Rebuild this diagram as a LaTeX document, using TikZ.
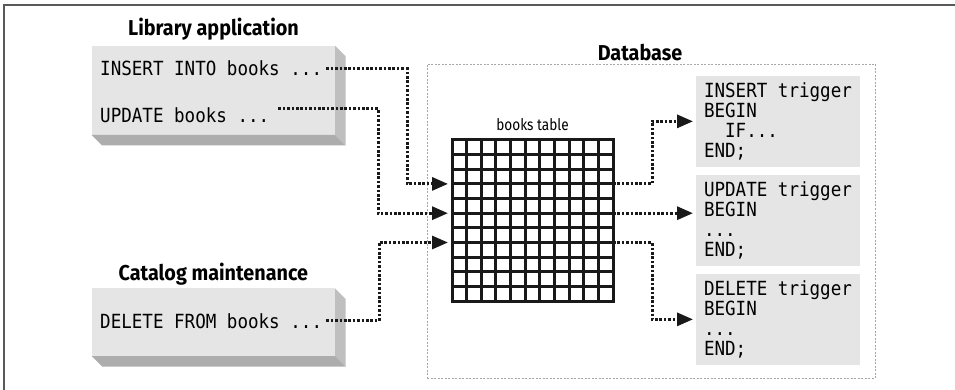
\documentclass[tikz,border=0pt]{standalone}
\usepackage{fontspec}
\usepackage{tikz}
\usetikzlibrary{arrows.meta}
\newfontfamily\codefont[FakeStretch=0.9]{DejaVu Sans Mono}
\newfontfamily\headfont[FakeStretch=0.92]{Fira Sans}
\newfontfamily\labelfont[FakeStretch=0.85]{Fira Sans}
\newcommand\blank{\hspace*{10.57pt}}
\definecolor{facefront}{gray}{0.9}
\definecolor{faceside}{gray}{0.75}
\definecolor{facebot}{gray}{0.68}
\tikzset{
	app_box/.style = {fill=facefront, minimum width=243.3pt, inner sep=0pt,
		outer sep=0pt, anchor=north west},
	code/.style = {font=\codefont\fontsize{19.5}{20}\selectfont, inner xsep=4pt,
		inner ysep=0pt, anchor=base west},
	trg_box/.style = {fill=facefront, anchor=north west, text width=148pt,
		inner xsep=8pt, outer sep=0pt, minimum height=90.7pt, align=left,
		font=\codefont\fontsize{19.5}{20}\selectfont},
	head/.style = {font=\headfont\bfseries\fontsize{21.5}{24}\selectfont, anchor=base},
	tbl/.style = {draw=black!90, line width=3pt, minimum size=161pt,
		inner sep=0pt, outer sep=0pt},
	tbl_line/.style = {black!90, line width=3pt},
	tbl_label/.style = {font=\labelfont\fontsize{16}{18}\selectfont, anchor=base},
	db_frame/.style = {draw=black!35, line width=0.9pt, dash pattern=on 2pt off 1.5pt,
		minimum width=448pt, minimum height=314pt},
	link/.style = {line width=3pt, black!90, dash pattern=on 2.6pt off 1.8pt,
		-{Triangle[length=16pt,width=13pt]}},
	frame/.style = {black!65, line width=2pt}
}
\begin{document}
\begin{tikzpicture}[x=1pt,y=-1pt]
\useasboundingbox (0,0) rectangle (955,390);
\draw[frame] (4,392) -- (4,5) -- (957,5);

\node[head] (t_lib) at (213.5,35.2) {Library application};
\node[head] (t_cat) at (213.3,280) {Catalog maintenance};
\node[head] (t_db) at (640,60.7) {Database};

\node[app_box, minimum height=89.3pt] (lib) at (91.7,45.7) {};
\node[app_box, minimum height=67.7pt] (cat) at (91.7,288.3) {};
\foreach \b/\h in {lib/89.3, cat/67.7}{
	\fill[faceside] (\b.north east) -- ++(10.5,10.5) -- ++(0,\h) -- (\b.south east) -- cycle;
	\fill[facebot] (\b.south west) -- ++(10.5,10.5) -- ++(243.3,0) -- (\b.south east) -- cycle;
}
\node[code] (ins) at (96,76) {INSERT\blank INTO\blank books\blank ...};
\node[code] (upd) at (96,123) {UPDATE\blank books\blank ...};
\node[code] (del) at (96,328) {DELETE\blank FROM\blank books\blank ...};

\node[db_frame] (db) at (651,221) {};
\node[tbl_label] (t_tbl) at (532.5,131) {books table};
\node[tbl] (tbl) at (532.5,220.5) {};
\foreach \k in {1,...,10}{
	\draw[tbl_line] ([yshift=-\k*14.636pt]tbl.north west) -- ([yshift=-\k*14.636pt]tbl.north east);
	\draw[tbl_line] ([xshift=\k*14.636pt]tbl.north west) -- ([xshift=\k*14.636pt]tbl.south west);
}
\coordinate (w3) at ([yshift=-43.9pt]tbl.north west);
\coordinate (w5) at ([yshift=-73.2pt]tbl.north west);
\coordinate (w7) at ([yshift=-102.5pt]tbl.north west);
\coordinate (e3) at ([yshift=-43.9pt]tbl.north east);
\coordinate (e5) at ([yshift=-73.2pt]tbl.north east);
\coordinate (e7) at ([yshift=-102.5pt]tbl.north east);

\node[trg_box] (trg1) at (696,76) {INSERT\blank trigger\\BEGIN\\\blank\blank IF...\\END;};
\node[trg_box] (trg2) at (696,175) {UPDATE\blank trigger\\BEGIN\\...\\END;};
\node[trg_box] (trg3) at (696,274) {DELETE\blank trigger\\BEGIN\\...\\END;};

\draw[link, shorten >=4pt] (ins.east) -| ([xshift=-45pt]w3) -- (w3);
\draw[link, shorten >=4pt] ([xshift=5pt,yshift=7pt]upd.east) -| ([xshift=-74pt]w5) -- (w5);
\draw[link, shorten >=4pt] (del.east) -| ([xshift=-73pt]w7) -- (w7);
\draw[link, shorten >=3pt] (e3) -| ([xshift=-44pt]trg1.west) -- (trg1.west);
\draw[link, shorten >=3pt] (e5) -- (e5 -| trg2.west);
\draw[link, shorten >=3pt] (e7) -| ([xshift=-44pt]trg3.west) -- (trg3.west);
\end{tikzpicture}
\end{document}
